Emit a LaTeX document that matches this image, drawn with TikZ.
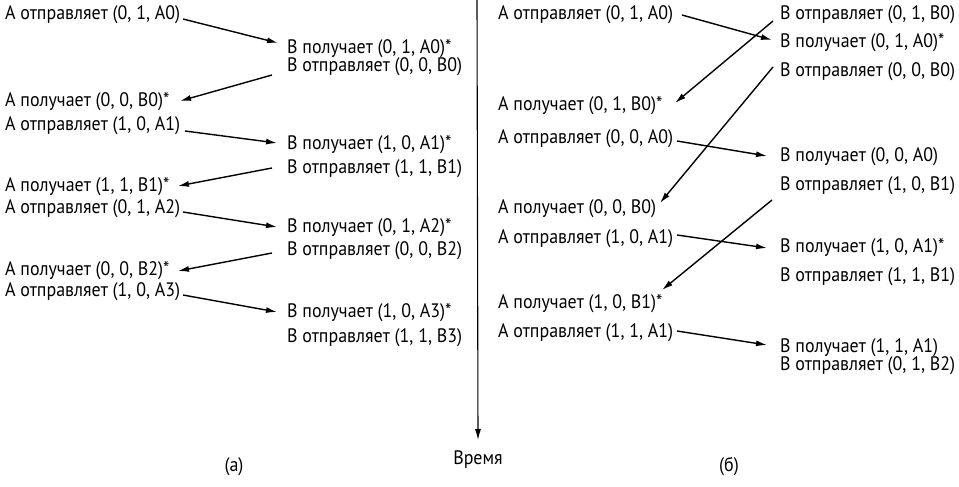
\documentclass[tikz,border=0pt]{standalone}
\usepackage{fontspec}
\setmainfont[FakeStretch=0.92]{PT Sans}
\usetikzlibrary{arrows.meta}
\tikzset{
  lbl/.style={anchor=west, inner sep=0pt, font=\fontsize{19.5}{22}\selectfont},
  captxt/.style={inner sep=0pt, font=\fontsize{19.5}{22}\selectfont},
  arr/.style={-{Latex[length=11pt,width=6pt]}, line width=1.4pt, black},
}
\begin{document}
\begin{tikzpicture}[x=1pt,y=-1pt]
\useasboundingbox (0,0) rectangle (959,487);
% panel (a)
\node[lbl] (a1) at (5,15)   {А отправляет (0, 1, A0)};
\node[lbl] (b1) at (287,49) {В получает (0, 1, A0)*};
\node[lbl] (b2) at (287,67) {В отправляет (0, 0, B0)};
\node[lbl] (a2) at (5,102)  {А получает (0, 0, B0)*};
\node[lbl] (a3) at (5,126)  {А отправляет (1, 0, A1)};
\node[lbl] (b3) at (287,145) {В получает (1, 0, A1)*};
\node[lbl] (b4) at (287,169) {В отправляет (1, 1, B1)};
\node[lbl] (a4) at (5,187)  {А получает (1, 1, B1)*};
\node[lbl] (a5) at (5,209)  {А отправляет (0, 1, A2)};
\node[lbl] (b5) at (287,228) {В получает (0, 1, A2)*};
\node[lbl] (b6) at (287,251) {В отправляет (0, 0, B2)};
\node[lbl] (a6) at (5,271)  {А получает (0, 0, B2)*};
\node[lbl] (a7) at (5,292)  {А отправляет (1, 0, A3)};
\node[lbl] (b7) at (287,313) {В получает (1, 0, A3)*};
\node[lbl] (b8) at (287,338) {В отправляет (1, 1, B3)};
\draw[arr] ([shift={(178,4)}]a1.west) -- ([shift={(-9,-6)}]b1.west);
\draw[arr] ([shift={(-15,8)}]b2.west) -- ([shift={(175,-1)}]a2.west);
\draw[arr] ([shift={(180,5)}]a3.west) -- ([shift={(-10,-2)}]b3.west);
\draw[arr] ([shift={(-15,-1)}]b4.west) -- ([shift={(173,-1)}]a4.west);
\draw[arr] ([shift={(178,3)}]a5.west) -- ([shift={(-10,-1)}]b5.west);
\draw[arr] ([shift={(-15,2)}]b6.west) -- ([shift={(173,0)}]a6.west);
\draw[arr] ([shift={(178,3)}]a7.west) -- ([shift={(-10,-1)}]b7.west);
% panel (b)
\node[lbl] (pa1) at (498,15)  {А отправляет (0, 1, A0)};
\node[lbl] (pa2) at (498,106) {А получает (0, 1, B0)*};
\node[lbl] (pa3) at (498,139) {А отправляет (0, 0, A0)};
\node[lbl] (pa4) at (498,209) {А получает (0, 0, B0)};
\node[lbl] (pa5) at (498,239) {А отправляет (1, 0, A1)};
\node[lbl] (pa6) at (498,304) {А получает (1, 0, B1)*};
\node[lbl] (pa7) at (498,333) {А отправляет (1, 1, A1)};
\node[lbl] (pb1) at (780,15)  {В отправляет (0, 1, B0)};
\node[lbl] (pb2) at (780,43)  {В получает (0, 1, A0)*};
\node[lbl] (pb3) at (780,72)  {В отправляет (0, 0, B0)};
\node[lbl] (pb4) at (780,157) {В получает (0, 0, A0)};
\node[lbl] (pb5) at (780,186) {В отправляет (1, 0, B1)};
\node[lbl] (pb6) at (780,248) {В получает (1, 0, A1)*};
\node[lbl] (pb7) at (780,277) {В отправляет (1, 1, B1)};
\node[lbl] (pb8) at (780,348) {В получает (1, 1, A1)};
\node[lbl] (pb9) at (780,366) {В отправляет (0, 1, B2)};
\draw[arr] ([shift={(184,0)}]pa1.west) -- ([shift={(-8,-3)}]pb2.west);
\draw[arr] ([shift={(-7,6)}]pb1.west) -- ([shift={(177,-3)}]pa2.west);
\draw[arr] ([shift={(-7,-5)}]pb3.west) -- ([shift={(162,-6)}]pa4.west);
\draw[arr] ([shift={(179,2)}]pa3.west) -- ([shift={(-13,-1)}]pb4.west);
\draw[arr] ([shift={(-8,14)}]pb5.west) -- ([shift={(164,-14)}]pa6.west);
\draw[arr] ([shift={(179,-4)}]pa5.west) -- ([shift={(-13,0)}]pb6.west);
\draw[arr] ([shift={(179,-2)}]pa7.west) -- ([shift={(-13,-3)}]pb8.west);
% time axis
\coordinate (top) at (477,0);
\node[captxt] (time) at (478,460) {Время};
\draw[arr, line width=1.1pt] (top) -- ([yshift=20pt]time.center);
\node[captxt] (capa) at (234,467) {(а)};
\node[captxt] (capb) at (729,467) {(б)};
\end{tikzpicture}
\end{document}
